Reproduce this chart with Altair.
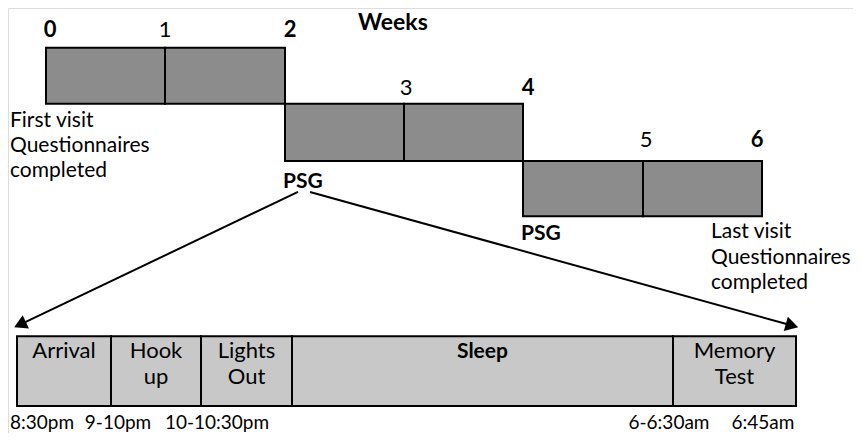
import altair as alt
import pandas as pd

FONT = "Lato"

# ---- data (diagram units = page pixels of the reference) ----
# week axis: x position of week boundaries
week_num = [0, 1, 2, 3, 4, 5, 6]
week_x = [46, 165, 285, 404, 523, 643, 762]
week_bold = [True, False, True, False, True, False, True]
week_label_x = [50, 165, 290, 406, 528, 646, 757]
week_label_y = [38, 38, 38, 98, 98, 152, 152]

# study blocks (week start, week end, row top, row bottom)
block_start = [0, 1, 2, 3, 4, 5]
block_end = [1, 2, 3, 4, 5, 6]
block_top = [49, 49, 107, 107, 166, 166]
block_bottom = [107, 107, 166, 166, 223, 223]

# night protocol segments
seg_names = ["Arrival", "Hook\nup", "Lights\nOut", "Sleep", "Memory\nTest"]
seg_x0 = [17, 111, 201, 292, 673]
seg_x1 = [111, 201, 292, 673, 796]
seg_bold = [False, False, False, True, False]
seg_top, seg_bottom = 347, 419
seg_times = ["8:30pm", "9-10pm", "10-10:30pm", "6-6:30am", "6:45am"]
time_x = [42, 118, 217, 669, 763]

# annotations
notes = ["Weeks", "First visit", "Questionnaires", "completed", "PSG", "PSG",
         "Last visit", "Questionnaires", "completed"]
note_x = [358, 10, 10, 10, 283, 521, 711, 711, 711]
note_y = [31, 131, 157, 183, 194, 248, 246, 272, 298]
note_bold = [True, False, False, False, True, True, False, False, False]

# arrows: start and tip
arrow_x0 = [298, 310]
arrow_y0 = [198, 198]
arrow_x1 = [20, 792]
arrow_y1 = [335, 336]
arrow_angle = [245, 106]

# ---- scales ----
W, H = 845, 425
xs = alt.Scale(domain=[8, 8 + W], range=[0, W], nice=False, zero=False)
ys = alt.Scale(domain=[8, 447], range=[0, H], nice=False, zero=False)
X = lambda f: alt.X(f, type="quantitative", scale=xs, axis=None)
Y = lambda f: alt.Y(f, type="quantitative", scale=ys, axis=None)

blocks = pd.DataFrame({
    "x0": [week_x[s] for s in block_start],
    "x1": [week_x[e] for e in block_end],
    "y0": block_top, "y1": block_bottom,
})
block_layer = alt.Chart(blocks).mark_rect(
    fill="#8c8c8c", stroke="black", strokeWidth=2
).encode(x=X("x0"), x2="x1", y=Y("y0"), y2="y1")

wk = pd.DataFrame({"x": week_label_x, "y": week_label_y,
                   "t": [str(w) for w in week_num], "b": week_bold})
wk_bold = alt.Chart(wk[wk.b]).mark_text(
    font=FONT, fontSize=22, fontWeight="bold", align="center", baseline="alphabetic", color="black"
).encode(x=X("x"), y=Y("y"), text="t:N")
wk_norm = alt.Chart(wk[~wk.b]).mark_text(
    font=FONT, fontSize=22, align="center", baseline="alphabetic", color="black"
).encode(x=X("x"), y=Y("y"), text="t:N")

nt = pd.DataFrame({"x": note_x, "y": note_y, "t": notes, "b": note_bold})
nt_weeks = alt.Chart(nt[nt.t == "Weeks"]).mark_text(
    font=FONT, fontSize=23, fontWeight="bold", align="left", baseline="alphabetic", color="black"
).encode(x=X("x"), y=Y("y"), text="t:N")
nt_bold = alt.Chart(nt[nt.b & (nt.t != "Weeks")]).mark_text(
    font=FONT, fontSize=21, fontWeight="bold", align="left", baseline="alphabetic", color="black"
).encode(x=X("x"), y=Y("y"), text="t:N")
nt_norm = alt.Chart(nt[~nt.b]).mark_text(
    font=FONT, fontSize=21, align="left", baseline="alphabetic", color="black"
).encode(x=X("x"), y=Y("y"), text="t:N")

ar = pd.DataFrame({"x0": arrow_x0, "y0": arrow_y0, "x1": arrow_x1, "y1": arrow_y1,
                   "a": arrow_angle})
ar_lines = alt.Chart(ar).mark_rule(color="black", strokeWidth=2).encode(
    x=X("x0"), y=Y("y0"), x2="x1", y2="y1")
ar_heads = alt.Chart(ar).mark_point(
    shape="triangle-up", filled=True, color="black", opacity=1, size=220
).encode(x=X("x1"), y=Y("y1"), angle=alt.Angle("a:Q", scale=None))

seg = pd.DataFrame({"x0": seg_x0, "x1": seg_x1,
                    "y0": [seg_top] * 5, "y1": [seg_bottom] * 5,
                    "name": [n.split("\n") for n in seg_names],
                    "xc": [(a + b) / 2 for a, b in zip(seg_x0, seg_x1)],
                    "yt": [370] * 5, "b": seg_bold})
seg_layer = alt.Chart(seg).mark_rect(
    fill="#c8c8c8", stroke="black", strokeWidth=2
).encode(x=X("x0"), x2="x1", y=Y("y0"), y2="y1")
seg_text = alt.Chart(seg[~seg.b]).mark_text(
    font=FONT, fontSize=22, align="center", baseline="alphabetic", lineHeight=26, color="black"
).encode(x=X("xc"), y=Y("yt"), text="name")
seg_text_b = alt.Chart(seg[seg.b]).mark_text(
    font=FONT, fontSize=21, fontWeight="bold", align="center", baseline="alphabetic", color="black"
).encode(x=X("xc"), y=Y("yt"), text="name")

tm = pd.DataFrame({"x": time_x, "y": [443] * 5, "t": seg_times})
tm_text = alt.Chart(tm).mark_text(
    font=FONT, fontSize=19, align="center", baseline="alphabetic", color="black"
).encode(x=X("x"), y=Y("y"), text="t:N")

chart = alt.layer(
    block_layer, wk_bold, wk_norm, nt_weeks, nt_bold, nt_norm,
    ar_lines, ar_heads, seg_layer, seg_text, seg_text_b, tm_text
).properties(
    width=W, height=H, autosize=alt.AutoSizeParams(type="none"), padding=0
).configure_view(stroke=None).configure(background="white")

chart.save("out.html", embed_options={"renderer": "svg", "actions": False})
